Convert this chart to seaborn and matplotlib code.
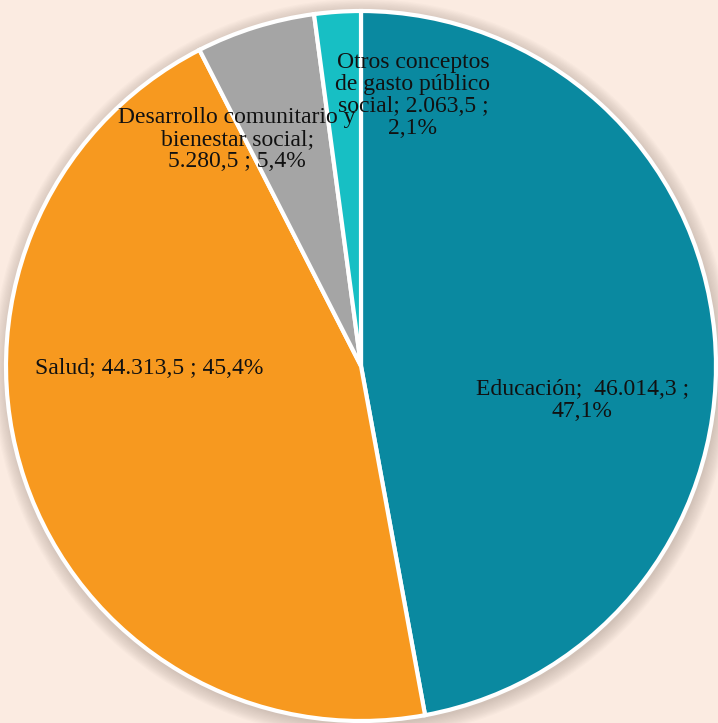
import matplotlib
matplotlib.use("Agg")
import matplotlib.pyplot as plt
import seaborn as sns
from matplotlib.patches import Circle

# Gasto público social por función (millones)
categorias = [
    "Educación",
    "Salud",
    "Desarrollo comunitario y\nbienestar social",
    "Otros conceptos\nde gasto público\nsocial",
]
valores = [46014.3, 44313.5, 5280.5, 2063.5]
colores = ["#0A89A0", "#F7991F", "#A5A5A5", "#17BFC4"]

sns.set_style("white")
plt.rcParams["font.family"] = ["Liberation Serif", "DejaVu Serif"]

BG = "#FBEBE1"


def fmt_es(v, dec):
    s = f"{v:,.{dec}f}"
    return s.replace(",", "X").replace(".", ",").replace("X", ".")


total = sum(valores)
pct = [v / total * 100 for v in valores]

etiquetas = [
    f"{categorias[0]};  {fmt_es(valores[0], 1)} ;\n{fmt_es(pct[0], 1)}%",
    f"{categorias[1]}; {fmt_es(valores[1], 1)} ; {fmt_es(pct[1], 1)}%",
    f"{categorias[2]};\n{fmt_es(valores[2], 1)} ; {fmt_es(pct[2], 1)}%",
    f"{categorias[3]}; {fmt_es(valores[3], 1)} ;\n{fmt_es(pct[3], 1)}%",
]
pos_etiquetas = [(0.623, -0.096), (-0.597, -0.006), (-0.349, 0.637), (0.146, 0.763)]

fig = plt.figure(figsize=(7.18, 7.23), dpi=100, facecolor=BG)
ax = fig.add_axes([0, 0, 1, 1])
ax.set_facecolor(BG)

# soft shadow around the pie
for i in range(12):
    r = 1.0 + 0.0035 * (12 - i)
    ax.add_patch(Circle((0.004, -0.008), r, color="#6a5a50", alpha=0.025, lw=0, zorder=0))

wedges, _ = ax.pie(
    valores,
    colors=colores,
    startangle=90,
    counterclock=False,
    radius=1.0,
    wedgeprops=dict(edgecolor="white", linewidth=3),
)
for w in wedges:
    w.set_zorder(2)

for txt, (x, y) in zip(etiquetas, pos_etiquetas):
    ax.text(x, y, txt, ha="center", va="center", fontsize=17,
            color="#111111", linespacing=1.06, zorder=5)

ax.set_xlim(-361 / 355, (718 - 361) / 355)
ax.set_ylim(-(723 - 366) / 355, 366 / 355)
ax.set_aspect("auto")
ax.axis("off")

fig.savefig("out.png", dpi=100, facecolor=BG)
